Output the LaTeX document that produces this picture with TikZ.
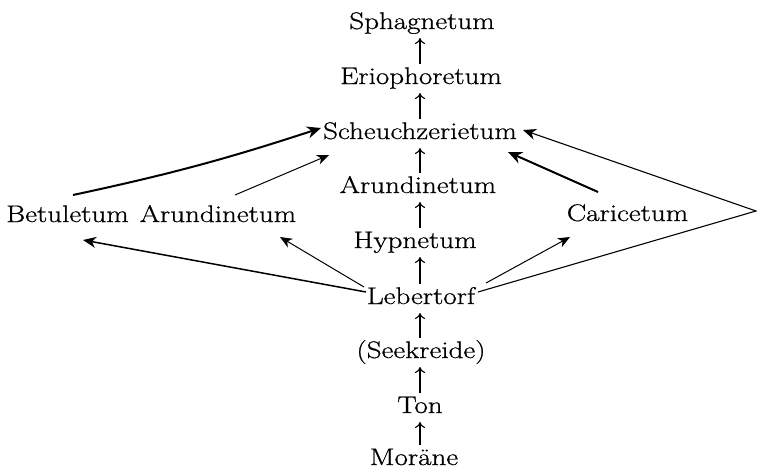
\documentclass[tikz,border=0pt]{standalone}
\usepackage{fontspec}
\setmainfont{Latin Modern Roman}[FakeStretch=1.21,FakeBold=0.8]
\usetikzlibrary{arrows.meta,calc}
\begin{document}
\begin{tikzpicture}[x=1pt,y=-1pt,
  lbl/.style={anchor=base,inner sep=0pt,font=\fontsize{24}{28}\selectfont},
  vup/.style={line width=1.1pt,-{To[length=6pt,width=10pt]}},
  thinarr/.style={line width=1pt,-{Stealth[length=12pt,width=10pt,inset=3.5pt]}},
  medarr/.style={line width=1.5pt,-{Stealth[length=13pt,width=11pt,inset=4pt]}},
  boldarr/.style={line width=2pt,-{Stealth[length=14pt,width=12pt,inset=4.5pt]}}]
\useasboundingbox (0,0) rectangle (757,469);
% central column
\node[lbl] (sph) at (422,29) {Sphagnetum};
\node[lbl] (eri) at (421,84) {Eriophoretum};
\node[lbl] (sch) at (420,139) {Scheuchzerietum};
\node[lbl] (aru) at (418,193) {Arundinetum};
\node[lbl] (hyp) at (415,248) {Hypnetum};
\node[lbl] (leb) at (421,304) {Lebertorf};
\node[lbl] (see) at (421,358) {(Seekreide)};
\node[lbl] (ton) at (420,413) {Ton};
\node[lbl] (mor) at (414,465) {Moräne};
% side nodes
\node[lbl] (bet) at (67.5,222) {Betuletum};
\node[lbl] (arl) at (218,222) {Arundinetum};
\node[lbl] (car) at (627.5,221) {Caricetum};
\coordinate (rv) at (756,211);
% vertical arrows
\foreach \lo/\up in {eri/sph,sch/eri,aru/sch,hyp/aru,leb/hyp,see/leb,ton/see,mor/ton}{
  \draw[vup] ($(\lo.base -| 420,0)+(0,-20)$) -- ($(\up.base -| 420,0)+(0,9)$);
}
% side connectors
\draw[boldarr] ($(bet.base)+(5.5,-27)$) to[bend right=3] ($(sch.base)+(-99,-11)$);
\draw[thinarr] ($(arl.base)+(17,-27)$) -- ($(sch.base)+(-91,16)$);
\draw[medarr] ($(leb.base)+(-55,-12)$) -- ($(bet.base)+(15.5,18)$);
\draw[thinarr] ($(leb.base)+(-57,-17)$) -- ($(arl.base)+(62,15)$);
\draw[thinarr] ($(leb.base)+(65,-21)$) -- ($(car.base)+(-57.5,16)$);
\draw[boldarr] ($(car.base)+(-29.5,-29)$) -- ($(sch.base)+(88,13)$);
\draw[line width=1.1pt,-{Stealth[length=13pt,width=11pt,inset=4pt]}] ($(leb.base)+(57,-12)$) -- (rv) -- ($(sch.base)+(103,-9)$);
\end{tikzpicture}
\end{document}
